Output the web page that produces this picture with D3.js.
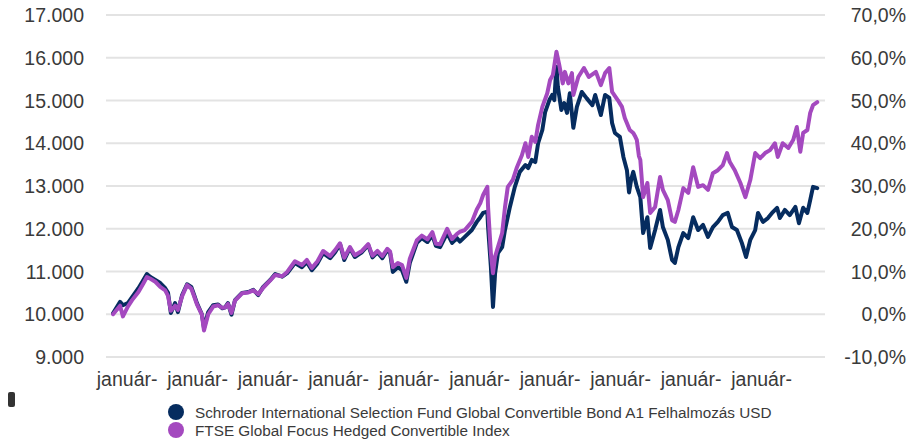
<!DOCTYPE html>
<html>
<head>
<meta charset="utf-8">
<script src="https://cdn.jsdelivr.net/npm/d3@7/dist/d3.min.js"></script>
<style>
  html, body { margin: 0; padding: 0; background: #ffffff; }
  svg { display: block; font-family: "Liberation Sans", Arial, sans-serif; }
</style>
</head>
<body>
<svg id="chart" width="909" height="442"></svg>
<script>
// ---- DATA (time as decimal year) ----
const fundDates = [
  2014.80, 2014.90, 2014.94, 2015.01, 2015.07, 2015.16, 2015.23, 2015.28, 2015.33, 2015.40,
  2015.47, 2015.54, 2015.58, 2015.62, 2015.68, 2015.72, 2015.78, 2015.85, 2015.91, 2015.95,
  2015.99, 2016.06, 2016.09, 2016.15, 2016.22, 2016.29, 2016.35, 2016.39, 2016.43, 2016.48,
  2016.53, 2016.63, 2016.72, 2016.79, 2016.86, 2016.93, 2017.03, 2017.10, 2017.20, 2017.27,
  2017.38, 2017.48, 2017.55, 2017.62, 2017.70, 2017.78, 2017.88, 2017.95, 2018.02, 2018.08,
  2018.16, 2018.23, 2018.33, 2018.42, 2018.48, 2018.55, 2018.62, 2018.69, 2018.73, 2018.77,
  2018.84, 2018.90, 2018.96, 2019.01, 2019.11, 2019.18, 2019.26, 2019.33, 2019.38, 2019.44,
  2019.54, 2019.61, 2019.68, 2019.72, 2019.79, 2019.89, 2019.96, 2020.01, 2020.05, 2020.11,
  2020.12, 2020.16, 2020.19, 2020.22, 2020.26, 2020.32, 2020.36, 2020.43, 2020.50, 2020.57,
  2020.65, 2020.69, 2020.74, 2020.79, 2020.83, 2020.89, 2020.93, 2020.99, 2021.03, 2021.06,
  2021.09, 2021.11, 2021.16, 2021.20, 2021.24, 2021.28, 2021.33, 2021.38, 2021.45, 2021.52,
  2021.60, 2021.64, 2021.72, 2021.78, 2021.84, 2021.88, 2021.92, 2021.99, 2022.04, 2022.09,
  2022.12, 2022.15, 2022.18, 2022.23, 2022.28, 2022.32, 2022.38, 2022.42, 2022.49, 2022.56,
  2022.60, 2022.67, 2022.73, 2022.77, 2022.82, 2022.89, 2022.96, 2023.03, 2023.10, 2023.17,
  2023.24, 2023.31, 2023.38, 2023.45, 2023.52, 2023.58, 2023.65, 2023.72, 2023.78, 2023.84,
  2023.91, 2023.95, 2024.02, 2024.09, 2024.16, 2024.22, 2024.26, 2024.33, 2024.40, 2024.48,
  2024.53, 2024.59, 2024.65, 2024.69, 2024.73, 2024.79
];
const fundValues = [
  10020, 10290, 10210, 10260, 10400, 10610, 10800, 10940, 10870, 10800,
  10730, 10610, 10500, 10030, 10260, 10050, 10450, 10700, 10640, 10450,
  10260, 10000, 9680, 10050, 10210, 10230, 10140, 10160, 10260, 9990,
  10330, 10500, 10520, 10570, 10450, 10640, 10800, 10940, 10880, 10960,
  11200, 11100, 11220, 11030, 11190, 11430, 11310, 11450, 11640, 11270,
  11550, 11340, 11450, 11620, 11330, 11450, 11310, 11500, 11430, 10990,
  11100, 11030, 10760, 11200, 11670, 11780, 11690, 11850, 11600, 11570,
  11900, 11670, 11780, 11700, 11810, 11970, 12160, 12270, 12370, 12400,
  12050, 11110, 10170, 10960, 11430, 11570, 11970, 12510, 12980, 13330,
  13490, 13420, 13610, 13560, 14000, 14310, 14730, 15010, 15130, 15010,
  15790, 15320, 14780, 14940, 14710, 15170, 14360, 14850, 15200, 15050,
  14890, 15130, 14660, 15130, 15060, 14470, 14240, 14150, 13680, 13370,
  12850, 13150, 13330, 12980, 12740, 11900, 12270, 11550, 11970, 12440,
  12040, 11740, 11270, 11200, 11570, 11900, 11780, 12270, 11970, 12090,
  11810, 12040, 12160, 12320, 12370, 12040, 11970, 11670, 11340, 11740,
  11970, 12370, 12160, 12250, 12390, 12490, 12250, 12440, 12320, 12510,
  12130, 12490, 12370, 12670, 12980, 12950
];
const indexDates = [
  2014.80, 2014.90, 2014.94, 2015.01, 2015.07, 2015.16, 2015.23, 2015.28, 2015.33, 2015.40,
  2015.47, 2015.54, 2015.58, 2015.62, 2015.68, 2015.72, 2015.78, 2015.85, 2015.91, 2015.95,
  2015.99, 2016.06, 2016.09, 2016.15, 2016.22, 2016.29, 2016.35, 2016.39, 2016.43, 2016.48,
  2016.53, 2016.63, 2016.72, 2016.79, 2016.86, 2016.93, 2017.03, 2017.10, 2017.20, 2017.27,
  2017.38, 2017.48, 2017.55, 2017.62, 2017.70, 2017.78, 2017.88, 2017.95, 2018.02, 2018.08,
  2018.16, 2018.23, 2018.33, 2018.42, 2018.48, 2018.55, 2018.62, 2018.69, 2018.73, 2018.77,
  2018.84, 2018.90, 2018.96, 2019.01, 2019.11, 2019.18, 2019.26, 2019.33, 2019.38, 2019.44,
  2019.54, 2019.61, 2019.68, 2019.72, 2019.79, 2019.89, 2019.96, 2020.01, 2020.05, 2020.11,
  2020.12, 2020.16, 2020.19, 2020.22, 2020.26, 2020.32, 2020.36, 2020.40, 2020.47, 2020.53,
  2020.60, 2020.65, 2020.69, 2020.74, 2020.79, 2020.83, 2020.89, 2020.96, 2021.00, 2021.04,
  2021.09, 2021.13, 2021.18, 2021.21, 2021.26, 2021.31, 2021.33, 2021.40, 2021.48, 2021.55,
  2021.65, 2021.72, 2021.78, 2021.84, 2021.88, 2021.96, 2022.02, 2022.06, 2022.13, 2022.18,
  2022.21, 2022.23, 2022.26, 2022.28, 2022.32, 2022.38, 2022.42, 2022.49, 2022.56, 2022.60,
  2022.67, 2022.73, 2022.77, 2022.82, 2022.89, 2022.96, 2023.03, 2023.10, 2023.17, 2023.24,
  2023.31, 2023.38, 2023.45, 2023.51, 2023.55, 2023.62, 2023.70, 2023.77, 2023.84, 2023.91,
  2023.98, 2024.05, 2024.12, 2024.19, 2024.23, 2024.30, 2024.38, 2024.45, 2024.50, 2024.55,
  2024.59, 2024.65, 2024.69, 2024.73, 2024.79
];
const indexValues = [
  10000, 10200, 9950, 10180, 10330, 10520, 10720, 10870, 10830, 10760,
  10640, 10560, 10430, 10080, 10200, 10100, 10420, 10680, 10600, 10420,
  10230, 9990, 9620, 10000, 10180, 10210, 10150, 10160, 10240, 10030,
  10320, 10490, 10510, 10560, 10470, 10620, 10790, 10920, 10890, 10990,
  11240, 11150, 11270, 11080, 11240, 11480, 11360, 11500, 11660, 11320,
  11570, 11380, 11480, 11640, 11370, 11480, 11360, 11530, 11470, 11100,
  11200, 11150, 10850, 11300, 11730, 11840, 11750, 11920, 11650, 11640,
  12000, 11760, 11880, 11930, 11970, 12160, 12450, 12600, 12790, 12980,
  12510, 11430, 10960, 11350, 11570, 11900, 12500, 12980, 13140, 13440,
  13720, 14000, 13680, 14150, 14030, 14430, 14850, 15170, 15480, 15600,
  16140, 15830, 15400, 15670, 15400, 15640, 15130, 15550, 15760, 15550,
  15670, 15360, 15640, 15760, 15200, 15010, 14850, 14590, 14310, 14240,
  14150, 14080, 13700, 13610, 12740, 13070, 12370, 12510, 13210, 12910,
  12670, 12200, 12160, 12440, 12950, 12840, 13440, 12980, 13020, 12910,
  13300, 13370, 13490, 13770, 13560, 13370, 13070, 12740, 13140, 13770,
  13650, 13770, 13840, 14000, 13680, 14000, 13890, 14080, 14380, 13800,
  14240, 14310, 14710, 14890, 14960
];
const seriesNames = [
  "Schroder International Selection Fund Global Convertible Bond A1 Felhalmozás USD",
  "FTSE Global Focus Hedged Convertible Index"
];
const seriesColors = ["#062c5f", "#a449bf"];
const leftTicks = [9000, 10000, 11000, 12000, 13000, 14000, 15000, 16000, 17000];
const rightTickLabels = ["-10,0%", "0,0%", "10,0%", "20,0%", "30,0%", "40,0%", "50,0%", "60,0%", "70,0%"];
const xTickYears = [2015, 2016, 2017, 2018, 2019, 2020, 2021, 2022, 2023, 2024];
const xTickLabel = "január-";

// ---- CHART ----
const svg = d3.select("#chart");
const x = d3.scaleLinear().domain([2014.7, 2024.9]).range([106, 825]);
const y = d3.scaleLinear().domain([9000, 17000]).range([357, 15]);
const textColor = "#3a3a3a";

// gridlines
svg.append("g").selectAll("line").data(leftTicks).join("line")
  .attr("x1", x.range()[0]).attr("x2", x.range()[1])
  .attr("y1", d => y(d)).attr("y2", d => y(d))
  .attr("stroke", "#e3e3e3").attr("stroke-width", 2);

// left axis labels
const fmtLeft = d => d3.format(",")(d).replace(/,/g, ".");
svg.append("g").selectAll("text").data(leftTicks).join("text")
  .attr("x", 84).attr("y", d => y(d)).attr("dy", "0.36em")
  .attr("text-anchor", "end").attr("font-size", 19.5).attr("fill", textColor)
  .text(d => fmtLeft(d));

// right axis labels
svg.append("g").selectAll("text").data(leftTicks).join("text")
  .attr("x", 906).attr("y", d => y(d)).attr("dy", "0.36em")
  .attr("text-anchor", "end").attr("font-size", 19.5).attr("fill", textColor)
  .text((d, i) => rightTickLabels[i]);

// x labels
svg.append("g").selectAll("text").data(xTickYears).join("text")
  .attr("x", d => x(d)).attr("y", 386)
  .attr("text-anchor", "middle").attr("font-size", 19.5).attr("fill", textColor)
  .text(xTickLabel);

// lines
const line = d3.line().x(d => x(d[0])).y(d => y(d[1])).curve(d3.curveLinear);
const fundData = fundDates.map((t, i) => [t, fundValues[i]]);
const indexData = indexDates.map((t, i) => [t, indexValues[i]]);
[fundData, indexData].forEach((data, i) => {
  svg.append("path").datum(data)
    .attr("d", line).attr("fill", "none")
    .attr("stroke", seriesColors[i]).attr("stroke-width", 4)
    .attr("stroke-linejoin", "round").attr("stroke-linecap", "round");
});

// legend
const lg = svg.append("g");
seriesNames.forEach((name, i) => {
  const cy = 412 + i * 18;
  lg.append("circle").attr("cx", 176).attr("cy", cy).attr("r", 8).attr("fill", seriesColors[i]);
  lg.append("text").attr("x", 195).attr("y", cy).attr("dy", "0.36em")
    .attr("font-size", 15.3).attr("fill", textColor).text(name);
});

// small marker at bottom left
svg.append("rect").attr("x", 8).attr("y", 392).attr("width", 7).attr("height", 15)
  .attr("rx", 2).attr("fill", "#333");
</script>
</body>
</html>
